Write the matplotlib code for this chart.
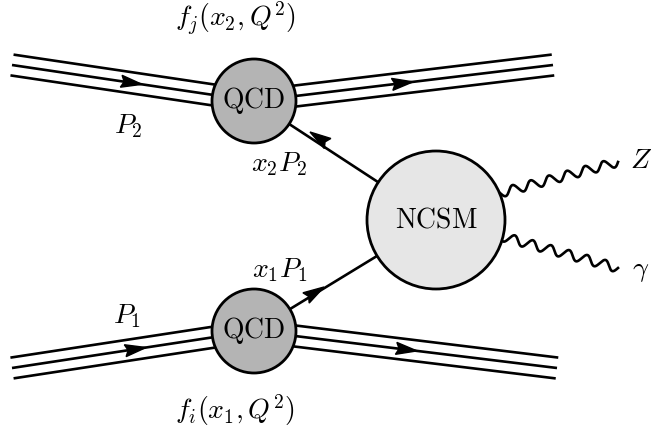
import numpy as np
import matplotlib.pyplot as plt
from matplotlib.patches import Circle, Polygon

plt.rcParams['mathtext.fontset'] = 'cm'
plt.rcParams['font.family'] = 'DejaVu Serif'

# blob labels and colours
blob_names = [r"$\mathrm{QCD}$", r"$\mathrm{QCD}$", r"$\mathrm{NCSM}$"]
blob_colors = ["#b4b4b4", "#b4b4b4", "#e6e6e6"]

# momentum / pdf labels
pdf_labels = [r"$f_j(x_2,Q^2)$", r"$f_i(x_1,Q^2)$"]
beam_labels = [r"$P_2$", r"$P_1$"]
parton_labels = [r"$x_2P_2$", r"$x_1P_1$"]
boson_labels = [r"$Z$", r"$\gamma$"]

# geometry in pixels (y down)
qcd_top = (254, 101)
qcd_bot = (254, 331)
ncsm = (436, 220)
r_qcd = 42
r_ncsm = 69

fig = plt.figure(figsize=(6.52, 4.32), dpi=100)
ax = fig.add_axes([0, 0, 1, 1])
ax.set_xlim(0, 652)
ax.set_ylim(432, 0)
ax.set_aspect('equal')
ax.axis('off')

LW = 1.9


def arrowhead(x, y, dx, dy, length=21, half=6, z=5):
    d = np.array([dx, dy], float)
    d /= np.hypot(*d)
    n = np.array([-d[1], d[0]])
    tip = np.array([x, y])
    back = tip - d * length
    pts = [tip, back + n * half, back + d * 3, back - n * half]
    ax.add_patch(Polygon(pts, closed=True, color='black', zorder=z))


def triple(p0, p1, arrow_frac=None, gap=10.5):
    p0 = np.array(p0, float)
    p1 = np.array(p1, float)
    d = p1 - p0
    d /= np.hypot(*d)
    n = np.array([-d[1], d[0]])
    for k in (-1, 0, 1):
        a = p0 + n * gap * k
        b = p1 + n * gap * k
        ax.plot([a[0], b[0]], [a[1], b[1]], color='black', lw=LW,
                solid_capstyle='butt', zorder=1)
    if arrow_frac is not None:
        t = p0 + (p1 - p0) * arrow_frac
        arrowhead(t[0], t[1], d[0], d[1])


def wavy(p0, p1, periods=6.5, amp=4.5):
    p0 = np.array(p0, float)
    p1 = np.array(p1, float)
    d = p1 - p0
    L = np.hypot(*d)
    d /= L
    n = np.array([-d[1], d[0]])
    s = np.linspace(0, 1, 600)
    off = amp * np.sin(2 * np.pi * periods * s)
    x = p0[0] + d[0] * L * s + n[0] * off
    y = p0[1] + d[1] * L * s + n[1] * off
    ax.plot(x, y, color='black', lw=LW, zorder=1)


# beams
triple((12, 65), qcd_top, arrow_frac=(142 - 12) / (254 - 12))
triple(qcd_top, (553, 65), arrow_frac=(413 - 254) / (553 - 254))
triple((12, 368), qcd_bot, arrow_frac=(146 - 12) / (254 - 12))
triple(qcd_bot, (557, 368), arrow_frac=(417 - 254) / (557 - 254))

# partons
ax.plot([qcd_top[0], ncsm[0]], [qcd_top[1], ncsm[1]], color='black', lw=LW, zorder=1)
ax.plot([qcd_bot[0], ncsm[0]], [qcd_bot[1], ncsm[1]], color='black', lw=LW, zorder=1)
arrowhead(310, 132, qcd_top[0] - ncsm[0], qcd_top[1] - ncsm[1])
arrowhead(324, 287, ncsm[0] - qcd_bot[0], ncsm[1] - qcd_bot[1])

# bosons
wavy((500, 193), (618, 162))
wavy((500, 236), (618, 268))

# blobs
for (cx, cy), r, name, col in zip([qcd_top, qcd_bot, ncsm], [r_qcd, r_qcd, r_ncsm],
                                  blob_names, blob_colors):
    ax.add_patch(Circle((cx, cy), r, facecolor=col, edgecolor='black', lw=2.0, zorder=3))
    ax.text(cx, cy, name, ha='center', va='center', fontsize=20, zorder=6)

fs = 20
ax.text(235, 18, pdf_labels[0], ha='center', va='center', fontsize=fs)
ax.text(235, 410, pdf_labels[1], ha='center', va='center', fontsize=fs)
ax.text(128, 126, beam_labels[0], ha='center', va='center', fontsize=fs)
ax.text(127, 316, beam_labels[1], ha='center', va='center', fontsize=fs)
ax.text(279, 164, parton_labels[0], ha='center', va='center', fontsize=fs)
ax.text(280, 270, parton_labels[1], ha='center', va='center', fontsize=fs)
ax.text(641, 160, boson_labels[0], ha='center', va='center', fontsize=fs)
ax.text(641, 270, boson_labels[1], ha='center', va='center', fontsize=fs)

fig.savefig("out.png", dpi=100)
